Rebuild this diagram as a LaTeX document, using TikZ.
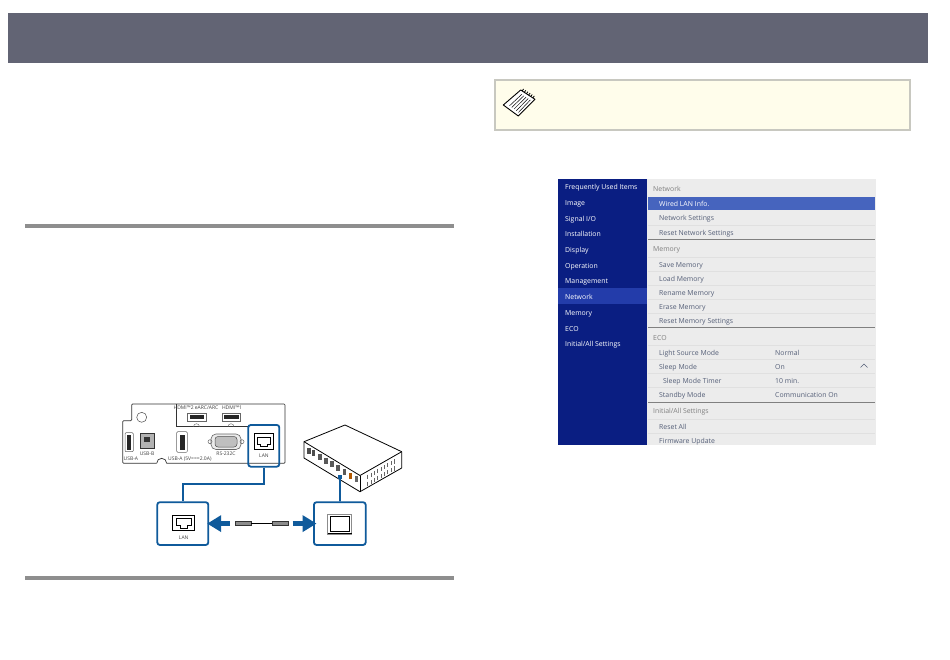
\documentclass[tikz,border=0pt]{standalone}
\usepackage{fontspec}
\setmainfont{Open Sans}
\usetikzlibrary{arrows.meta,calc}
\definecolor{barcol}{RGB}{98,100,116}
\definecolor{rulecol}{RGB}{142,142,142}
\definecolor{notecol}{RGB}{255,253,235}
\definecolor{noteline}{RGB}{200,200,192}
\definecolor{linkcol}{RGB}{15,90,155}
\definecolor{navcol}{RGB}{10,30,130}
\definecolor{navsel}{RGB}{35,60,170}
\definecolor{rowsel}{RGB}{70,100,190}
\definecolor{paneCol}{RGB}{236,236,236}
\definecolor{itemcol}{RGB}{85,95,120}
\tikzset{
	navitem/.style={anchor=west, text=white, yshift=-1.3pt, text height=5pt, text depth=1.5pt, font=\fontsize{6.9}{8}\selectfont, inner sep=0pt},
	menuhead/.style={anchor=west, text=black!50, yshift=-1.3pt, text height=5pt, text depth=1.5pt, font=\fontsize{6.9}{8}\selectfont, inner sep=0pt},
	menuitem/.style={anchor=west, text=itemcol, yshift=-1.3pt, text height=5pt, text depth=1.5pt, font=\fontsize{6.9}{8}\selectfont, inner sep=0pt},
	tinylabel/.style={text=black!75, font=\fontsize{5}{6}\selectfont, inner sep=0pt},
	bluebox/.style={draw=linkcol, line width=1.8pt, rounded corners=2.5pt, fill=white},
	link/.style={draw=linkcol, line width=1.8pt},
	bigarrow/.style={draw=linkcol, line width=5pt, -{Triangle[length=14pt,width=16pt]}},
	rjport/.style={draw=black, line width=1pt, fill=white},
	plug/.style={draw=black!80, fill=black!45, line width=0.5pt, minimum width=16pt, minimum height=4pt, inner sep=0pt}
}
\begin{document}
\begin{tikzpicture}[x=1pt,y=-1pt]
	\useasboundingbox (0,0) rectangle (950,660);
	\fill[white] (0,0) rectangle (950,660);
	% page furniture
	\fill[barcol] (8,13.5) rectangle (928,63.5);
	\fill[rulecol] (25,224) rectangle (454,228);
	\fill[rulecol] (25,576) rectangle (454,580);
	\draw[noteline, fill=notecol, line width=1.6pt] (495,80) rectangle (910,130);
	% note icon
	\coordinate (nA) at (503.3,105);
	\coordinate (nB) at (520.7,90);
	\coordinate (nC) at (535,99.3);
	\coordinate (nD) at (518.3,116);
	\draw[black, fill=white, line width=0.9pt, line join=round] (nA) -- (nB) -- (nC) -- (nD) -- cycle;
	\foreach \t in {0.25,0.4,0.55,0.7,0.85}
		\draw[black, line width=0.5pt] ($(nA)!\t!(nD)+(2.5,-2)$) -- ($(nB)!\t!(nC)+(-2.5,2)$);
	\foreach \t in {0.1,0.25,0.4,0.55,0.7,0.85}
		\draw[black, line width=0.8pt] ($(nB)!\t!(nC)$) -- ++(1.5,-2);

	% menu screen
	\fill[paneCol] (558,179) rectangle (876,445);
	\fill[navcol] (558,179) rectangle (647,445);
	\fill[navsel] (558,288.5) rectangle (647,304);
	\fill[rowsel] (648,197) rectangle (875,210);
	\foreach \y in {225,257,271,285,299,313,345,359,373,387,419,433}
		\draw[black!12, line width=0.4pt] (648,\y) -- (875,\y);
	\foreach \y in {239.5,327.5,402.5}
		\draw[black!50, line width=0.6pt] (648,\y) -- (875,\y);
	\node[navitem] (freq) at (565,186) {Frequently Used Items};
	\node[navitem] (image) at (565,202) {Image};
	\node[navitem] (signal) at (565,218) {Signal I/O};
	\node[navitem] (install) at (565,233.5) {Installation};
	\node[navitem] (display) at (565,249) {Display};
	\node[navitem] (operat) at (565,265) {Operation};
	\node[navitem] (manage) at (565,280.5) {Management};
	\node[navitem] (network) at (565,296.5) {Network};
	\node[navitem] (memory) at (565,312) {Memory};
	\node[navitem] (eco) at (565,328) {ECO};
	\node[navitem] (initial) at (565,343.5) {Initial/All Settings};

	\node[menuhead] (hnet) at (653,188) {Network};
	\node[menuitem, text=white] (wired) at (659,203.5) {Wired LAN Info.};
	\node[menuitem] (netset) at (659,217.5) {Network Settings};
	\node[menuitem] (netres) at (659,232) {Reset Network Settings};
	\node[menuhead] (hmem) at (653,248) {Memory};
	\node[menuitem] (memsave) at (659,264) {Save Memory};
	\node[menuitem] (memload) at (659,278) {Load Memory};
	\node[menuitem] (memren) at (659,292.5) {Rename Memory};
	\node[menuitem] (memera) at (659,306.5) {Erase Memory};
	\node[menuitem] (memres) at (659,320.5) {Reset Memory Settings};
	\node[menuhead] (heco) at (653,337) {ECO};
	\node[menuitem] (light) at (659,352.5) {Light Source Mode};
	\node[menuitem] (sleep) at (659,366.5) {Sleep Mode};
	\node[menuitem] (timer) at (663,380.5) {Sleep Mode Timer};
	\node[menuitem] (standby) at (659,394.5) {Standby Mode};
	\node[menuitem] (vlight) at (775,352.5) {Normal};
	\node[menuitem] (vsleep) at (775,366.5) {On};
	\node[menuitem] (vtimer) at (775,380.5) {10 min.};
	\node[menuitem] (vstand) at (775,394.5) {Communication On};
	\draw[itemcol, line width=0.5pt] (860.5,367.5) -- (864,364) -- (867.5,367.5);
	\node[menuhead] (hinit) at (653,410.5) {Initial/All Settings};
	\node[menuitem] (reset) at (659,426.5) {Reset All};
	\node[menuitem] (firm) at (659,440.5) {Firmware Update};

	% rear panel
	\draw[black!80, line width=0.7pt, rounded corners=1pt] (156.7,463.3) -- (122.7,463.3) -- (122.7,420.7) -- (131.7,420.7) -- (131.7,404) -- (285,404) -- (285,463.3) -- (166.7,463.3);
	\draw[black!80, line width=0.7pt] (166.7,463.3) arc (0:-180:5);
	\draw[black!80, line width=0.6pt] (176,404) -- (176,426.7) -- (248,426.7);
	\draw[black!70, line width=0.5pt] (141.7,417.3) circle (5);
	\draw[black!60, fill=white, line width=0.5pt, rounded corners=1pt] (125,432.7) rectangle (133.3,451.7);
	\fill[black!85] (127,435) rectangle (131.3,449.5);
	\draw[black!80, fill=black!30, line width=1pt] (140,433) rectangle (154,448);
	\fill[black!80] (144,437) rectangle (150,442);
	\draw[black!60, fill=white, line width=0.5pt, rounded corners=1pt] (176.7,431.7) rectangle (187.3,452.3);
	\fill[black!85] (179.5,434.5) rectangle (184.5,449.5);
	\draw[black!60, fill=black!8, line width=0.6pt, rounded corners=5pt] (211,434) rectangle (241,449.5);
	\draw[black!70, fill=black!25, line width=0.5pt, rounded corners=3pt] (215,436.5) rectangle (237,447);
	\draw[black!60, line width=0.5pt] (210,441.7) circle (2) (242,441.7) circle (2);
	\draw[black!60, fill=white, line width=0.5pt] (187.3,413) rectangle (206,421.7);
	\fill[black!85] (189.5,414.5) rectangle (204,418.5);
	\draw[black!60, fill=white, line width=0.5pt] (222,413) rectangle (240.7,421.7);
	\fill[black!85] (224,414.5) rectangle (238.5,418.5);
	\draw[black!60, line width=0.4pt] (199.5,426.7) arc (0:-180:3);
	\draw[black!60, line width=0.4pt] (234,426.7) arc (0:-180:3);
	\node[tinylabel] (hdmitwo) at (196,407.5) {HDMI™2 eARC/ARC};
	\node[tinylabel] (hdmione) at (232,407.5) {HDMI™1};
	\node[tinylabel] (usbb) at (147,453.5) {USB-B};
	\node[tinylabel, anchor=west] (usba) at (123.5,459) {USB-A};
	\node[tinylabel, anchor=west] (usbc) at (168,459) {USB-A (5V===2.0A)};
	\node[tinylabel] (rs) at (226,454) {RS-232C};

	% switching hub
	\draw[black, fill=white, line width=0.8pt, line join=round] (304,441.7) -- (345,425) -- (401.7,451.7) -- (401.7,468) -- (360,491.7) -- (304,458) -- cycle;
	\draw[black, line width=0.8pt, line join=round] (304,441.7) -- (360,475.5) -- (401.7,451.7);
	\draw[black, line width=0.8pt] (360,475.5) -- (360,491.7);
	\foreach \t/\c in {0.06/black!70,0.14/black!70,0.25/black!65,0.36/black!65,0.47/black!65,0.58/black!65,0.69/black!65,0.80/orange!70!black,0.91/black!60}
		\fill[\c] ($(304,445.5)!\t!(360,479.5)$) rectangle ++(3.5,6);
	\foreach \t in {0.18,0.26,0.34,0.42,0.50,0.58,0.66,0.74,0.82}{
		\draw[black!60, line width=0.5pt] ($(360,479)!\t!(401.7,455)$) -- ++(0,4.2);
		\draw[black!60, line width=0.5pt] ($(360,486)!\t!(401.7,462)$) -- ++(0,4.2);
	}

	% ports and blue call-outs
	\node[bluebox, fill=none, minimum width=31pt, minimum height=41.7pt, inner sep=0pt] (lanhi) at (263.8,445.8) {};
	\node[bluebox, minimum width=51pt, minimum height=42.7pt, inner sep=0pt] (lanbox) at (182.8,523.6) {};
	\node[bluebox, minimum width=51.7pt, minimum height=42.7pt, inner sep=0pt] (hubbox) at (339.8,523.6) {};
	\node[rjport, minimum width=19.3pt, minimum height=16pt, inner sep=0pt] (lanport) at (263.7,441) {};
	\draw[black, line width=0.6pt] (257,437) -- (270.5,437) -- (270.5,444) -- (267,444) -- (267,446) -- (260.5,446) -- (260.5,444) -- (257,444) -- cycle;
	\node[tinylabel] (lantxt) at (264,456) {LAN};
	\node[rjport, minimum width=21.6pt, minimum height=15.7pt, inner sep=0pt] (boxport) at (183.5,522.9) {};
	\draw[black, line width=0.6pt] (176,518) -- (191,518) -- (191,525.5) -- (187,525.5) -- (187,527.8) -- (180,527.8) -- (180,525.5) -- (176,525.5) -- cycle;
	\node[tinylabel] (boxtxt) at (183.7,537.5) {LAN};
	\node[rjport, draw=black!45, line width=0.6pt, minimum width=24pt, minimum height=20pt, inner sep=0pt] (hubport) at (339.7,524) {};
	\draw[black, line width=0.9pt] (330.5,516.5) rectangle (349,531);
	\draw[black, line width=0.8pt] (327.7,533.5) -- (351.7,533.5);

	\coordinate (bend) at (224,484.3);
	\coordinate (hubjack) at (340,476.5);
	\draw[link] (lanhi) |- (bend) -| (lanbox);
	\draw[link] (hubbox) -- (hubjack);
	\fill[linkcol] (338,474.5) rectangle (342,478.5);

	% cable
	\coordinate (cableL) at (230,523.6);
	\coordinate (cableR) at (292.7,523.6);
	\node[plug] (plugL) at (243,523.3) {};
	\node[plug] (plugR) at (280,523.3) {};
	\draw[black, line width=0.9pt] (plugL) -- (plugR);
	\draw[bigarrow, shorten >=-2pt] (cableL) -- (lanbox);
	\draw[bigarrow, shorten >=-3.5pt] (cableR) -- (hubbox);
\end{tikzpicture}
\end{document}
